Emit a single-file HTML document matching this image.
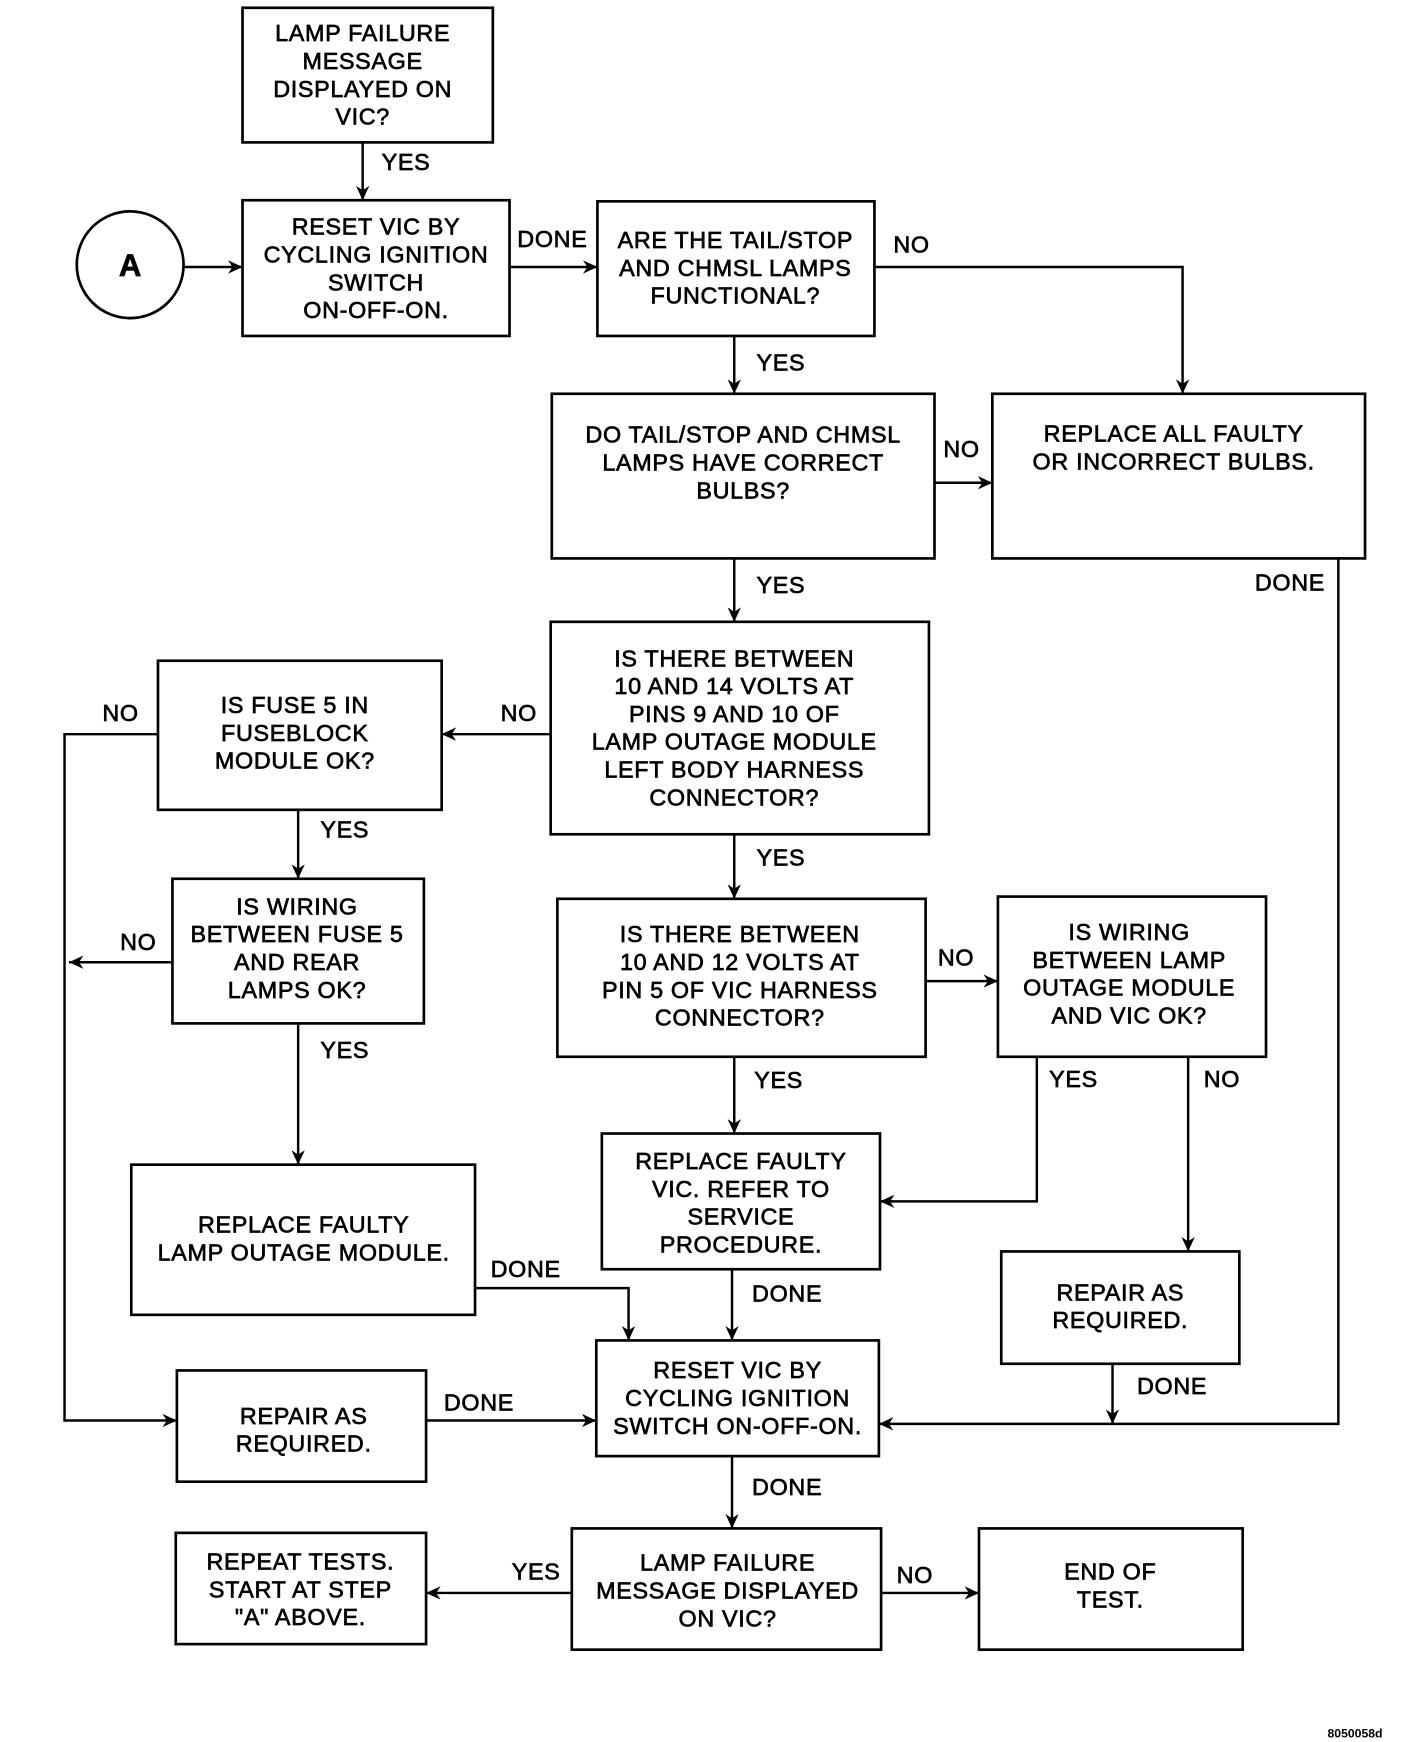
<!DOCTYPE html>
<html><head><meta charset="utf-8"><style>html,body{margin:0;padding:0;background:#fff}svg{display:block}</style></head><body>
<svg width="1424" height="1742" viewBox="0 0 1280 1566" preserveAspectRatio="none" xmlns="http://www.w3.org/2000/svg">
<defs>
<marker id="b" markerWidth="14" markerHeight="22" refX="13" refY="6" orient="auto" markerUnits="userSpaceOnUse"><path d="M0,0 L13,6 L0,12 L4,6 Z" fill="#000"/></marker></defs>
<g fill="#fff" stroke="#000" stroke-width="2.4">
<rect x="218" y="7" width="225" height="121"/>
<rect x="218" y="180" width="240" height="122"/>
<circle cx="117" cy="238" r="48"/>
<rect x="537" y="181" width="249" height="121"/>
<rect x="496" y="354" width="344" height="148"/>
<rect x="892" y="354" width="335" height="148"/>
<rect x="495" y="559" width="340" height="191"/>
<rect x="142" y="594" width="255" height="134"/>
<rect x="155" y="790" width="226" height="130"/>
<rect x="501" y="808" width="331" height="142"/>
<rect x="897" y="806" width="241" height="144"/>
<rect x="541" y="1019" width="250" height="122"/>
<rect x="118" y="1047" width="309" height="135"/>
<rect x="900" y="1125" width="214" height="101"/>
<rect x="536" y="1205" width="254" height="104"/>
<rect x="159" y="1232" width="224" height="100"/>
<rect x="158" y="1378" width="225" height="100"/>
<rect x="514" y="1374" width="278" height="109"/>
<rect x="880" y="1374" width="237" height="109"/>
</g>
<g fill="none" stroke="#000" stroke-width="2.2" marker-end="url(#b)">
<path d="M326,128 V180"/>
<path d="M165,240 H218"/>
<path d="M458,240 H537"/>
<path d="M786,240 H1063 V354"/>
<path d="M660,302 V354"/>
<path d="M840,434 H892"/>
<path d="M660,502 V559"/>
<path d="M1203,502 V1280 H790"/>
<path d="M495,660 H397"/>
<path d="M142,660 H58 V1277 H159"/>
<path d="M268,728 V790"/>
<path d="M155,865 H62"/>
<path d="M268,920 V1047"/>
<path d="M660,750 V808"/>
<path d="M832,882 H897"/>
<path d="M660,950 V1019"/>
<path d="M932,950 V1080 H791"/>
<path d="M1068,950 V1125"/>
<path d="M658,1141 V1205"/>
<path d="M427,1158 H565 V1205"/>
<path d="M1000,1226 V1280"/>
<path d="M383,1277 H536"/>
<path d="M658,1309 V1374"/>
<path d="M514,1432 H383"/>
<path d="M792,1432 H880"/>
</g>
<g font-family="Liberation Sans, Arial, sans-serif" font-size="21" letter-spacing="0.6" fill="#000" stroke="#000" stroke-width="0.6" text-anchor="middle">
<text x="117" y="248" font-size="28" font-weight="bold" letter-spacing="0">A</text>
<text x="326" y="37">LAMP FAILURE</text><text x="326" y="62">MESSAGE</text><text x="326" y="87">DISPLAYED ON</text><text x="326" y="112">VIC?</text>
<text x="338" y="211">RESET VIC BY</text><text x="338" y="236">CYCLING IGNITION</text><text x="338" y="261">SWITCH</text><text x="338" y="286">ON-OFF-ON.</text>
<text x="661" y="223">ARE THE TAIL/STOP</text><text x="661" y="248">AND CHMSL LAMPS</text><text x="661" y="273">FUNCTIONAL?</text>
<text x="668" y="398">DO TAIL/STOP AND CHMSL</text><text x="668" y="423">LAMPS HAVE CORRECT</text><text x="668" y="448">BULBS?</text>
<text x="1055" y="397">REPLACE ALL FAULTY</text><text x="1055" y="422">OR INCORRECT BULBS.</text>
<text x="660" y="599">IS THERE BETWEEN</text><text x="660" y="624">10 AND 14 VOLTS AT</text><text x="660" y="649">PINS 9 AND 10 OF</text><text x="660" y="674">LAMP OUTAGE MODULE</text><text x="660" y="699">LEFT BODY HARNESS</text><text x="660" y="724">CONNECTOR?</text>
<text x="265" y="641">IS FUSE 5 IN</text><text x="265" y="666">FUSEBLOCK</text><text x="265" y="691">MODULE OK?</text>
<text x="267" y="822">IS WIRING</text><text x="267" y="847">BETWEEN FUSE 5</text><text x="267" y="872">AND REAR</text><text x="267" y="897">LAMPS OK?</text>
<text x="665" y="847">IS THERE BETWEEN</text><text x="665" y="872">10 AND 12 VOLTS AT</text><text x="665" y="897">PIN 5 OF VIC HARNESS</text><text x="665" y="922">CONNECTOR?</text>
<text x="1015" y="845">IS WIRING</text><text x="1015" y="870">BETWEEN LAMP</text><text x="1015" y="895">OUTAGE MODULE</text><text x="1015" y="920">AND VIC OK?</text>
<text x="666" y="1051">REPLACE FAULTY</text><text x="666" y="1076">VIC.  REFER TO</text><text x="666" y="1101">SERVICE</text><text x="666" y="1126">PROCEDURE.</text>
<text x="273" y="1108">REPLACE FAULTY</text><text x="273" y="1133">LAMP OUTAGE MODULE.</text>
<text x="1007" y="1169">REPAIR AS</text><text x="1007" y="1194">REQUIRED.</text>
<text x="663" y="1239">RESET VIC BY</text><text x="663" y="1264">CYCLING IGNITION</text><text x="663" y="1289">SWITCH ON-OFF-ON.</text>
<text x="273" y="1280">REPAIR AS</text><text x="273" y="1305">REQUIRED.</text>
<text x="270" y="1411">REPEAT TESTS.</text><text x="270" y="1436">START AT STEP</text><text x="270" y="1461">"A" ABOVE.</text>
<text x="654" y="1412">LAMP FAILURE</text><text x="654" y="1437">MESSAGE DISPLAYED</text><text x="654" y="1462">ON VIC?</text>
<text x="998" y="1420">END OF</text><text x="998" y="1445">TEST.</text>
</g>
<g font-family="Liberation Sans, Arial, sans-serif" font-size="21" letter-spacing="0.6" fill="#000" stroke="#000" stroke-width="0.6">
<text x="343" y="153">YES</text>
<text x="465" y="222">DONE</text>
<text x="803" y="227">NO</text>
<text x="680" y="333">YES</text>
<text x="848" y="411">NO</text>
<text x="680" y="533">YES</text>
<text x="1128" y="531">DONE</text>
<text x="450" y="648">NO</text>
<text x="92" y="648">NO</text>
<text x="288" y="753">YES</text>
<text x="108" y="854">NO</text>
<text x="288" y="951">YES</text>
<text x="680" y="778">YES</text>
<text x="843" y="868">NO</text>
<text x="678" y="978">YES</text>
<text x="943" y="977">YES</text>
<text x="1082" y="977">NO</text>
<text x="676" y="1170">DONE</text>
<text x="441" y="1148">DONE</text>
<text x="1022" y="1253">DONE</text>
<text x="399" y="1268">DONE</text>
<text x="676" y="1344">DONE</text>
<text x="460" y="1420">YES</text>
<text x="806" y="1423">NO</text>
</g>
<text x="1218" y="1562" font-family="Liberation Sans, Arial, sans-serif" font-size="11" font-weight="bold" text-anchor="middle">8050058d</text>
</svg>
</body></html>
